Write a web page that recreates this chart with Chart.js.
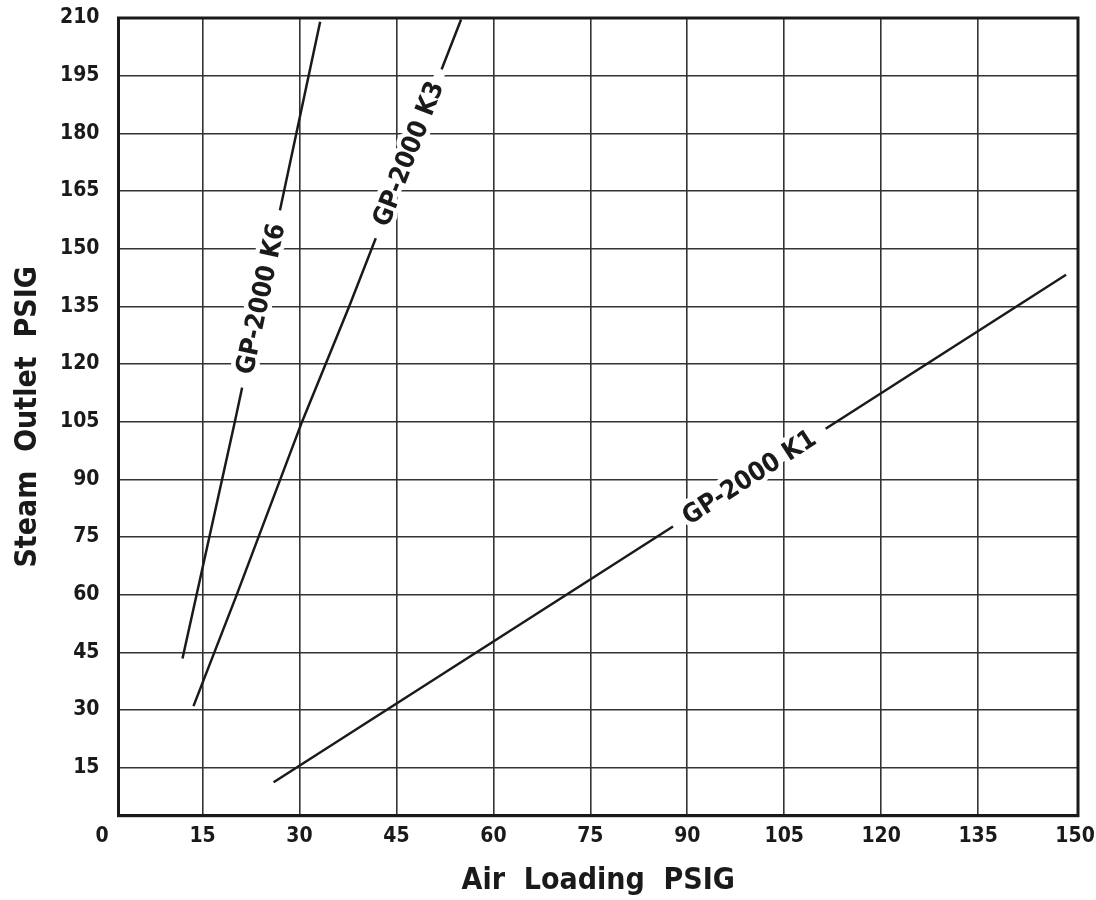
<!DOCTYPE html>
<html>
<head>
<meta charset="utf-8">
<script src="https://cdn.jsdelivr.net/npm/chart.js@4/dist/chart.umd.min.js"></script>
<style>
  body { margin: 0; background: #fff; }
  #wrap { width: 1096px; height: 900px; }
</style>
</head>
<body>
<div id="wrap"><canvas id="steamChart" width="1096" height="900"></canvas></div>
<script>
// curves (air loading psig -> steam outlet psig)
const seriesNames = ['GP-2000 K6', 'GP-2000 K3', 'GP-2000 K1'];
const k6Air = [11.9, 20, 33.2];
const k6Steam = [43.4, 105, 209];
const k3Air = [13.6, 20.3, 30.4, 37.7, 55];
const k3Steam = [31, 60, 105, 135, 209.6];
const k1Air = [26, 148.6];
const k1Steam = [11.2, 143.2];
// where each curve label sits, as an air loading value
const labelAtAir = [24.05, 46.9, 99.6];

const xTicks = [15, 30, 45, 60, 75, 90, 105, 120, 135, 150];
const yTicks = [15, 30, 45, 60, 75, 90, 105, 120, 135, 150, 165, 180, 195, 210];

const FONT = "'DejaVu Sans Condensed', 'DejaVu Sans', sans-serif";
const INK = '#1a1a1a';

function toPoints(xs, ys) {
    return xs.map((x, i) => ({ x: x, y: ys[i] }));
}

function noPad(s) {
    s.paddingLeft = 0; s.paddingRight = 0; s.paddingTop = 0; s.paddingBottom = 0;
}

const frame = {
    id: 'frame',
    afterDatasetsDraw(chart) {
        const { ctx, chartArea: a } = chart;
        ctx.save();
        ctx.strokeStyle = INK;
        ctx.lineWidth = 3;
        ctx.strokeRect(a.left, a.top, a.right - a.left, a.bottom - a.top);
        ctx.restore();
    }
};

const curveLabels = {
    id: 'curveLabels',
    afterDatasetsDraw(chart) {
        const ctx = chart.ctx;
        const xs = chart.scales.x;
        chart.data.datasets.forEach((ds, i) => {
            const pts = chart.getDatasetMeta(i).data;
            const px = xs.getPixelForValue(labelAtAir[i]);
            let k = 0;
            while (k < pts.length - 2 && pts[k + 1].x < px) k++;
            const p0 = pts[k], p1 = pts[k + 1];
            const t = (px - p0.x) / (p1.x - p0.x);
            const py = p0.y + t * (p1.y - p0.y);
            const ang = Math.atan2(p1.y - p0.y, p1.x - p0.x);

            ctx.save();
            ctx.translate(px, py);
            ctx.rotate(ang);
            ctx.font = 'normal bold 26px ' + FONT;
            ctx.textAlign = 'center';
            ctx.textBaseline = 'middle';
            const w = ctx.measureText(ds.label).width;
            ctx.fillStyle = '#fff';
            ctx.fillRect(-w / 2 - 14, -5, w + 28, 10);
            ctx.strokeStyle = '#fff';
            ctx.lineWidth = 9;
            ctx.lineJoin = 'round';
            ctx.strokeText(ds.label, 0, 1);
            ctx.fillStyle = INK;
            ctx.fillText(ds.label, 0, 1);
            ctx.restore();
        });
    }
};

const ctx = document.getElementById('steamChart').getContext('2d');
new Chart(ctx, {
    type: 'scatter',
    data: {
        datasets: [
            { label: seriesNames[0], data: toPoints(k6Air, k6Steam) },
            { label: seriesNames[1], data: toPoints(k3Air, k3Steam) },
            { label: seriesNames[2], data: toPoints(k1Air, k1Steam) }
        ].map(d => Object.assign(d, {
            showLine: true,
            borderColor: INK,
            borderWidth: 2.5,
            pointRadius: 0,
            tension: 0
        }))
    },
    options: {
        responsive: false,
        animation: false,
        layout: { padding: { top: 18, right: 18, left: 0, bottom: 0 } },
        plugins: {
            legend: { display: false },
            tooltip: { enabled: false }
        },
        scales: {
            x: {
                type: 'linear',
                min: 2,
                max: 150.45,
                afterBuildTicks: s => { s.ticks = [{ value: s.min }].concat(xTicks.map(v => ({ value: v }))); },
                afterFit: s => { s.height = 84.3; noPad(s); },
                grid: {
                    drawTicks: false,
                    lineWidth: 1.6,
                    color: c => (c.tick && (c.tick.value === 150 || c.tick.value < 15)) ? 'rgba(0,0,0,0)' : '#333'
                },
                border: { display: true, width: 3, color: INK },
                ticks: {
                    padding: 8,
                    color: INK,
                    font: { family: FONT, size: 21, weight: 'bold' },
                    callback: v => (v < 15 ? '0     ' : String(v))
                },
                title: {
                    display: true,
                    text: 'Air  Loading  PSIG',
                    color: INK,
                    font: { family: FONT, size: 30, weight: 'bold', lineHeight: 1 },
                    padding: { top: 0, bottom: 4 }
                }
            },
            y: {
                type: 'linear',
                min: 2.5,
                max: 210,
                afterBuildTicks: s => { s.ticks = yTicks.map(v => ({ value: v })); },
                afterFit: s => { s.width = 118.5; noPad(s); },
                grid: { drawTicks: false, lineWidth: 1.6, color: '#333' },
                border: { display: true, width: 3, color: INK },
                ticks: {
                    padding: 19,
                    color: INK,
                    font: { family: FONT, size: 21, weight: 'bold' }
                },
                title: {
                    display: true,
                    text: 'Steam  Outlet  PSIG',
                    color: INK,
                    font: { family: FONT, size: 30, weight: 'bold', lineHeight: 1 },
                    padding: { top: 13, bottom: 0 }
                }
            }
        }
    },
    plugins: [frame, curveLabels]
});
</script>
</body>
</html>
